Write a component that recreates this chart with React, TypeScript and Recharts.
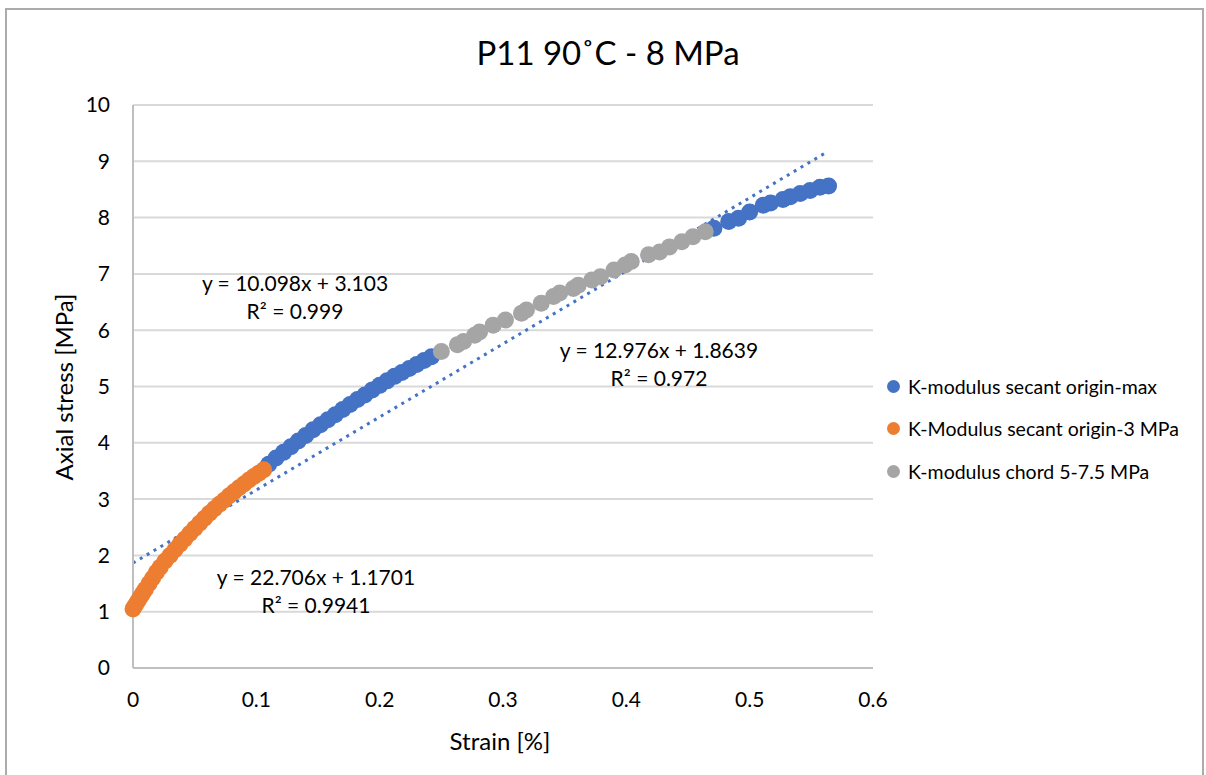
import { ScatterChart, Scatter, XAxis, YAxis, CartesianGrid, Legend, ReferenceLine } from "recharts";

const FONT = "Lato, 'Open Sans', sans-serif";

// K-Modulus secant origin-3 MPa (orange)
const origin3Strain = [0, 0.002, 0.004, 0.006, 0.008, 0.01, 0.013, 0.016, 0.019, 0.022, 0.026, 0.03, 0.034, 0.038, 0.042, 0.046, 0.05, 0.054, 0.058, 0.062, 0.066, 0.07, 0.074, 0.078, 0.082, 0.086, 0.09, 0.094, 0.098, 0.102, 0.106];
const origin3Stress = [1.05, 1.12, 1.19, 1.26, 1.33, 1.4, 1.5, 1.6, 1.7, 1.79, 1.9, 2.0, 2.1, 2.2, 2.29, 2.39, 2.48, 2.57, 2.66, 2.75, 2.83, 2.91, 2.98, 3.06, 3.13, 3.2, 3.27, 3.34, 3.4, 3.46, 3.52];

// K-modulus secant origin-max (blue), visible parts
const originMaxStrain = [0.11, 0.116, 0.122, 0.128, 0.134, 0.14, 0.146, 0.152, 0.158, 0.164, 0.17, 0.176, 0.182, 0.188, 0.194, 0.2, 0.206, 0.212, 0.218, 0.224, 0.23, 0.236, 0.242, 0.471, 0.483, 0.491, 0.5, 0.511, 0.517, 0.527, 0.533, 0.541, 0.549, 0.557, 0.564];
const originMaxStress = [3.62, 3.73, 3.83, 3.93, 4.03, 4.13, 4.23, 4.32, 4.41, 4.5, 4.59, 4.68, 4.77, 4.85, 4.94, 5.02, 5.1, 5.18, 5.25, 5.32, 5.39, 5.46, 5.53, 7.81, 7.93, 7.99, 8.1, 8.22, 8.26, 8.32, 8.37, 8.43, 8.48, 8.54, 8.56];

// K-modulus chord 5-7.5 MPa (gray)
const chordStrain = [0.25, 0.263, 0.268, 0.277, 0.281, 0.292, 0.302, 0.315, 0.319, 0.331, 0.341, 0.346, 0.357, 0.361, 0.372, 0.379, 0.39, 0.399, 0.404, 0.418, 0.427, 0.435, 0.445, 0.454, 0.464];
const chordStress = [5.62, 5.74, 5.8, 5.91, 5.97, 6.09, 6.18, 6.3, 6.36, 6.48, 6.6, 6.66, 6.74, 6.8, 6.89, 6.95, 7.07, 7.16, 7.22, 7.34, 7.39, 7.48, 7.57, 7.66, 7.75];

// linear trendline on origin-max series
const trendSlope = 12.976;
const trendIntercept = 1.8639;
const trendRange = [0, 0.562];

const xTicks = [0, 0.1, 0.2, 0.3, 0.4, 0.5, 0.6];
const yTicks = [0, 1, 2, 3, 4, 5, 6, 7, 8, 9, 10];

const series = [
  { name: "K-modulus secant origin-max", color: "#4472C4", strain: originMaxStrain, stress: originMaxStress },
  { name: "K-Modulus secant origin-3 MPa", color: "#ED7D31", strain: origin3Strain, stress: origin3Stress },
  { name: "K-modulus chord 5-7.5 MPa", color: "#A5A5A5", strain: chordStrain, stress: chordStress },
];

const equations = [
  { lines: ["y = 10.098x + 3.103", "R² = 0.999"], cx: 295, cy: 297 },
  { lines: ["y = 12.976x + 1.8639", "R² = 0.972"], cx: 659, cy: 364 },
  { lines: ["y = 22.706x + 1.1701", "R² = 0.9941"], cx: 316, cy: 591 },
];

const toPoints = (xs: number[], ys: number[]) => xs.map((x, i) => ({ x, y: ys[i] }));

function Dot(color: string) {
  return (props: any) => <circle cx={props.cx} cy={props.cy} r={8.5} fill={color} />;
}

function LegendBox() {
  return (
    <div style={{ fontFamily: FONT, fontSize: 19.5, color: "#000" }}>
      {series.map((s) => (
        <div key={s.name} style={{ display: "flex", alignItems: "center", height: 42.5, whiteSpace: "nowrap" }}>
          <span style={{ width: 13, height: 13, borderRadius: 7, background: s.color, marginRight: 8 }} />
          {s.name}
        </div>
      ))}
    </div>
  );
}

const abs = (cx: number, cy: number): React.CSSProperties => ({
  position: "absolute",
  left: cx,
  top: cy,
  transform: "translate(-50%, -50%)",
  whiteSpace: "nowrap",
  fontFamily: FONT,
  color: "#000",
});

export default function App() {
  return (
    <div style={{ position: "absolute", left: 0, top: 0, width: 1206, height: 775, overflow: "hidden", background: "#fff" }}>
      <div style={{ position: "absolute", left: 5, top: 8, width: 1199, height: 800, border: "2px solid #ababab", boxSizing: "border-box" }} />
      <ScatterChart width={1206} height={775} margin={{ top: 105, right: 333, bottom: 47, left: 73 }}>
        <CartesianGrid horizontal vertical={false} stroke="#d9d9d9" strokeWidth={2} />
        <XAxis
          type="number"
          dataKey="x"
          domain={[0, 0.6]}
          ticks={xTicks}
          height={60}
          tickLine={false}
          tickSize={0}
          tickMargin={24}
          axisLine={{ stroke: "#bfbfbf", strokeWidth: 2 }}
          tick={{ fill: "#000", fontSize: 21, fontFamily: FONT }}
        />
        <YAxis
          type="number"
          dataKey="y"
          domain={[0, 10]}
          ticks={yTicks}
          width={60}
          tickLine={false}
          tickSize={0}
          tickMargin={23}
          axisLine={{ stroke: "#bfbfbf", strokeWidth: 2 }}
          tick={{ fill: "#000", fontSize: 21, fontFamily: FONT }}
        />
        {series.map((s) => (
          <Scatter
            key={s.name}
            name={s.name}
            data={toPoints(s.strain, s.stress)}
            fill={s.color}
            shape={Dot(s.color)}
            isAnimationActive={false}
          />
        ))}
        <ReferenceLine
          segment={[
            { x: trendRange[0], y: trendSlope * trendRange[0] + trendIntercept },
            { x: trendRange[1], y: trendSlope * trendRange[1] + trendIntercept },
          ]}
          stroke="#4472C4"
          strokeWidth={3}
          strokeDasharray="3 5"
        />
        <Legend
          layout="vertical"
          align="center"
          verticalAlign="middle"
          content={<LegendBox />}
          wrapperStyle={{ left: 887, top: 365, width: 315 }}
        />
      </ScatterChart>
      <div style={{ ...abs(608, 52), fontSize: 33 }}>P11 90˚C - 8 MPa</div>
      <div style={{ ...abs(500, 740), fontSize: 24 }}>Strain [%]</div>
      <div style={{ ...abs(63, 387), fontSize: 24, transform: "translate(-50%, -50%) rotate(-90deg)" }}>Axial stress [MPa]</div>
      {equations.map((e) => (
        <div key={e.lines[0]} style={{ ...abs(e.cx, e.cy), fontSize: 21, lineHeight: "28px", textAlign: "center" }}>
          {e.lines.map((l) => (
            <div key={l}>{l}</div>
          ))}
        </div>
      ))}
    </div>
  );
}
